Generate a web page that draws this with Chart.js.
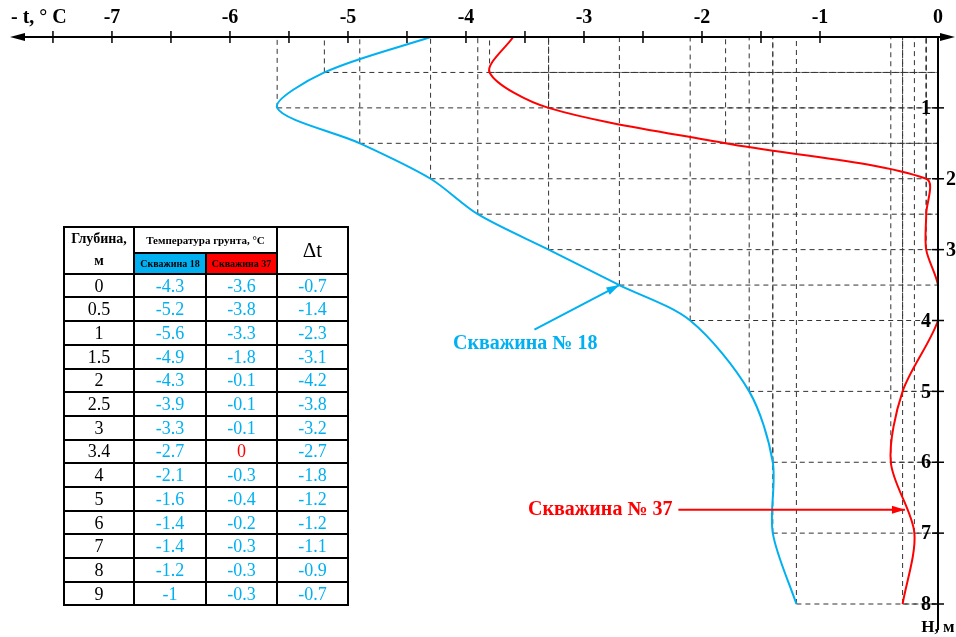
<!DOCTYPE html>
<html>
<head>
<meta charset="utf-8">
<script src="https://cdn.jsdelivr.net/npm/chart.js@4"></script>
<style>
body { margin: 0; background: #fff; }
#wrap { position: relative; width: 956px; height: 637px; }
#tbl { position: absolute; left: 63px; top: 226px; border-collapse: collapse; font-family: 'Liberation Serif', 'Times New Roman', serif; }
#tbl td { border: 2px solid #000; text-align: center; padding: 0; line-height: 1; }
#tbl tbody td { height: 21.7px; font-size: 18px; color: #00B0F0; }
#tbl tbody td.d { color: #000; }
#tbl tbody td.zero { color: #f00; }
</style>
</head>
<body>
<div id="wrap">
  <canvas id="soilChart" width="956" height="637"></canvas>
  <table id="tbl">
    <thead>
      <tr>
        <td rowspan="2" style="width:68px;font-weight:bold;font-size:14px;line-height:1.6">Глубина,<br>м</td>
        <td colspan="2" style="height:24px;font-weight:bold;font-size:11px">Температура грунта, °C</td>
        <td rowspan="2" style="width:69px;font-size:21px">&Delta;t</td>
      </tr>
      <tr>
        <td style="width:70px;height:18px;background:#00B0F0;font-weight:bold;font-size:10px">Скважина 18</td>
        <td style="width:69px;background:#f00;font-weight:bold;font-size:10px">Скважина 37</td>
      </tr>
    </thead>
    <tbody id="tbody"></tbody>
  </table>
</div>
<script>
// данные для графика (глубина, м -> температура, °C)
const depths = [0, 0.5, 1, 1.5, 2, 2.5, 3, 3.5, 4, 5, 6, 7, 8];
const well18 = [-4.3, -5.2, -5.6, -4.9, -4.3, -3.9, -3.3, -2.7, -2.1, -1.6, -1.4, -1.4, -1.2];
const well37 = [-3.6, -3.8, -3.3, -1.8, -0.1, -0.1, -0.1, 0, 0, -0.3, -0.4, -0.2, -0.3];
const tempTicks = [-7, -6, -5, -4, -3, -2, -1, 0];
const depthTicks = [1, 2, 3, 4, 5, 6, 7, 8];

// таблица
const tableDepths = ['0', '0.5', '1', '1.5', '2', '2.5', '3', '3.4', '4', '5', '6', '7', '8', '9'];
const table18 = ['-4.3', '-5.2', '-5.6', '-4.9', '-4.3', '-3.9', '-3.3', '-2.7', '-2.1', '-1.6', '-1.4', '-1.4', '-1.2', '-1'];
const table37 = ['-3.6', '-3.8', '-3.3', '-1.8', '-0.1', '-0.1', '-0.1', '0', '-0.3', '-0.4', '-0.2', '-0.3', '-0.3', '-0.3'];
const tableDelta = ['-0.7', '-1.4', '-2.3', '-3.1', '-4.2', '-3.8', '-3.2', '-2.7', '-1.8', '-1.2', '-1.2', '-1.1', '-0.9', '-0.7'];

const colors = {
    blue: '#00B0F0',
    red: '#FF0000',
    grid: '#333'
};
const font = "'Liberation Serif', 'Times New Roman', serif";

const tbody = document.getElementById('tbody');
tableDepths.forEach((d, i) => {
    const tr = document.createElement('tr');
    tr.innerHTML = '<td class="d">' + d + '</td><td>' + table18[i] + '</td>' +
        '<td' + (table37[i] === '0' ? ' class="zero"' : '') + '>' + table37[i] + '</td><td>' + tableDelta[i] + '</td>';
    tbody.appendChild(tr);
});

// подписи скважин со стрелками (в координатах графика)
const notes = [
    { text: 'Скважина № 18', color: colors.blue, tx: -4.11, ty: 4.33, align: 'left', from: [-3.42, 4.13], to: [-2.7, 3.5] },
    { text: 'Скважина № 37', color: colors.red, tx: -2.25, ty: 6.67, align: 'right', from: [-2.2, 6.67], to: [-0.28, 6.67] }
];

function arrowHead(ctx, x1, y1, x2, y2, len, half) {
    const a = Math.atan2(y2 - y1, x2 - x1);
    ctx.beginPath();
    ctx.moveTo(x2, y2);
    ctx.lineTo(x2 - len * Math.cos(a) + half * Math.sin(a), y2 - len * Math.sin(a) - half * Math.cos(a));
    ctx.lineTo(x2 - len * Math.cos(a) - half * Math.sin(a), y2 - len * Math.sin(a) + half * Math.cos(a));
    ctx.closePath();
    ctx.fill();
}

const drawing = {
    id: 'drawing',
    beforeDatasetsDraw(chart) {
        const { ctx, scales: { x, y } } = chart;
        const x0 = x.getPixelForValue(0), y0 = y.getPixelForValue(0);
        ctx.save();
        ctx.setLineDash([5, 4]);
        ctx.strokeStyle = colors.grid;
        ctx.lineWidth = 1;
        [well18, well37].forEach(vals => vals.forEach((v, i) => {
            const px = x.getPixelForValue(v), py = y.getPixelForValue(depths[i]);
            ctx.beginPath();
            ctx.moveTo(px, py); ctx.lineTo(px, y0);
            ctx.moveTo(px, py); ctx.lineTo(x0, py);
            ctx.stroke();
        }));
        ctx.restore();
    },
    afterDraw(chart) {
        const { ctx, scales: { x, y } } = chart;
        const x0 = x.getPixelForValue(0), y0 = y.getPixelForValue(0);
        ctx.save();
        ctx.strokeStyle = '#000';
        ctx.fillStyle = '#000';

        // ось температур
        ctx.lineWidth = 2;
        ctx.beginPath(); ctx.moveTo(14, y0); ctx.lineTo(950, y0); ctx.stroke();
        arrowHead(ctx, 30, y0, 10, y0, 15, 4);
        arrowHead(ctx, 930, y0, 955, y0, 15, 4);
        ctx.lineWidth = 1.5;
        tempTicks.slice(0, -1).forEach(t => {
            [t, t - 0.5].forEach(v => {
                const px = x.getPixelForValue(v);
                ctx.beginPath(); ctx.moveTo(px, y0 - 6); ctx.lineTo(px, y0 + 6); ctx.stroke();
            });
        });
        ctx.font = 'bold 20px ' + font;
        ctx.textAlign = 'center';
        ctx.textBaseline = 'middle';
        tempTicks.forEach(t => ctx.fillText(String(t), x.getPixelForValue(t), 18));
        ctx.textAlign = 'left';
        ctx.fillText('- t, ° C', 11, 18);

        // ось глубин
        ctx.lineWidth = 2;
        ctx.beginPath(); ctx.moveTo(x0, y0); ctx.lineTo(x0, 630); ctx.stroke();
        ctx.lineWidth = 1.5;
        ctx.textAlign = 'center';
        depthTicks.forEach(d => {
            const py = y.getPixelForValue(d);
            ctx.beginPath(); ctx.moveTo(x0 - 6, py); ctx.lineTo(x0 + 6, py); ctx.stroke();
            const lx = (d === 2 || d === 3) ? x0 + 13 : x0 - 12;
            ctx.fillText(String(d), lx, py + 1);
        });
        ctx.font = 'bold 17px ' + font;
        ctx.fillText('H, м', x0, 628);

        // подписи скважин
        notes.forEach(n => {
            ctx.strokeStyle = n.color;
            ctx.fillStyle = n.color;
            ctx.lineWidth = 2;
            const fx = x.getPixelForValue(n.from[0]), fy = y.getPixelForValue(n.from[1]);
            const tx = x.getPixelForValue(n.to[0]), ty = y.getPixelForValue(n.to[1]);
            ctx.beginPath(); ctx.moveTo(fx, fy); ctx.lineTo(tx, ty); ctx.stroke();
            arrowHead(ctx, fx, fy, tx, ty, 13, 4);
            ctx.font = 'bold 20px ' + font;
            ctx.textAlign = n.align;
            ctx.fillText(n.text, x.getPixelForValue(n.tx), y.getPixelForValue(n.ty));
        });
        ctx.restore();
    }
};

const ctx = document.getElementById('soilChart').getContext('2d');
new Chart(ctx, {
    type: 'scatter',
    data: {
        datasets: [{
            label: 'Скважина 18',
            data: depths.map((d, i) => ({ x: well18[i], y: d })),
            borderColor: colors.blue,
            borderWidth: 2,
            showLine: true,
            tension: 0.3,
            pointRadius: 0,
            clip: false
        }, {
            label: 'Скважина 37',
            data: depths.map((d, i) => ({ x: well37[i], y: d })),
            borderColor: colors.red,
            borderWidth: 2,
            showLine: true,
            tension: 0.3,
            pointRadius: 0,
            clip: false
        }]
    },
    options: {
        responsive: false,
        animation: false,
        layout: { padding: { left: 10, right: 18, top: 37, bottom: 33 } },
        scales: {
            x: { type: 'linear', min: -7.864, max: 0, display: false },
            y: { type: 'linear', min: 0, max: 8, reverse: true, display: false }
        },
        plugins: {
            legend: { display: false },
            tooltip: { enabled: false }
        }
    },
    plugins: [drawing]
});
</script>
</body>
</html>
